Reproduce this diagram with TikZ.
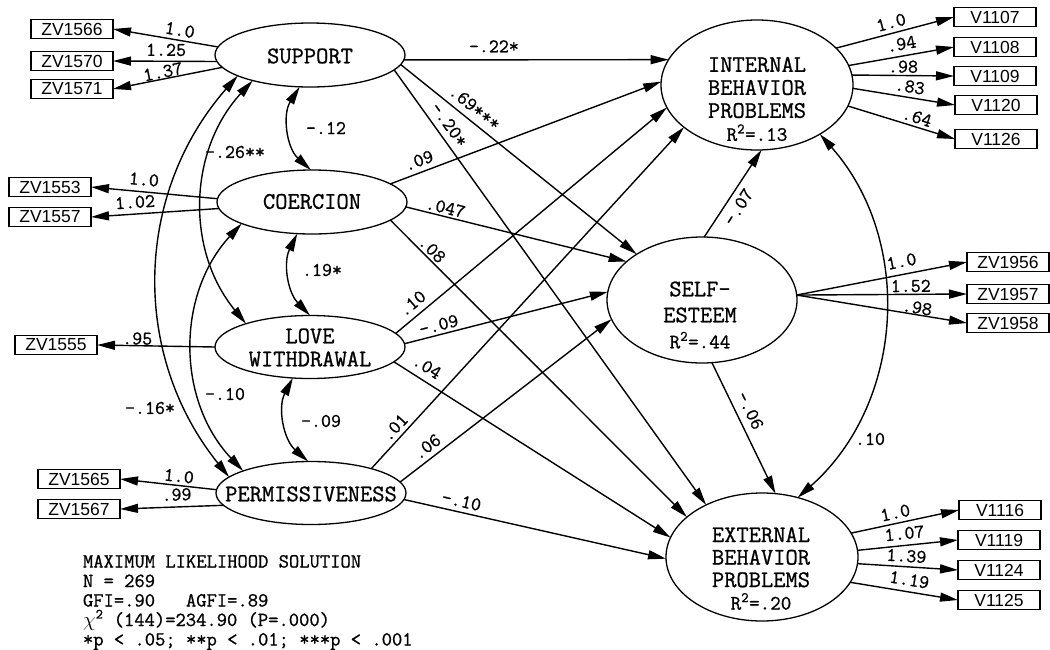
\documentclass[tikz,border=0pt]{standalone}
\usepackage{fontspec}
\usetikzlibrary{arrows.meta,shapes.geometric}
\newfontfamily\semmono[FakeBold=0.9]{Latin Modern Mono}
\newfontfamily\semsans{Liberation Sans}

\begin{document}
\begin{tikzpicture}[x=1pt,y=-1pt,
  every node/.style={inner sep=0pt, outer sep=0pt},
  latent/.style={draw, ellipse, line width=1.3pt},
  ltext/.style={align=center, font=\semmono\fontsize{23.8}{23}\selectfont},
  manifest/.style={draw, rectangle, line width=1.2pt, minimum width=82pt,
    minimum height=19.5pt, font=\semsans\fontsize{17.5}{18}\selectfont},
  effect/.style={line width=1.4pt, -{Triangle[length=18pt,width=9pt]}},
  corr/.style={line width=1.4pt,
    {Triangle[length=18pt,width=9pt]}-{Triangle[length=18pt,width=9pt]}},
  coef/.style={font=\semmono\fontsize{19.4}{20}\selectfont, inner sep=1pt},
]
\fill[white] (0,0) rectangle (1050,649);
\useasboundingbox (0,0) rectangle (1050,649);

% ---------- latent variables ----------
\node[latent, minimum width=190pt, minimum height=64pt] (sup) at (310,55) {};
\node[latent, minimum width=190pt, minimum height=64pt] (coe) at (312,202) {};
\node[latent, minimum width=190pt, minimum height=63pt] (lov) at (310,347) {};
\node[latent, minimum width=190pt, minimum height=63pt] (per) at (311,493) {};
\node[latent, minimum width=192pt, minimum height=130pt] (int) at (757,85) {};
\node[latent, minimum width=190pt, minimum height=126pt] (self) at (702,300) {};
\node[latent, minimum width=192pt, minimum height=128pt] (ext) at (762,557) {};

\node[ltext] (sup-t) at (310,56) {SUPPORT};
\node[ltext] (coe-t) at (312,201.5) {COERCION};
\node[ltext] (lov-t) at (310,347.5) {LOVE\\WITHDRAWAL};
\node[ltext] (per-t) at (311,494) {PERMISSIVENESS};
\node[ltext] (int-t) at (757,99) {INTERNAL\\BEHAVIOR\\PROBLEMS\\{\fontsize{20.5}{23}\selectfont R\textsuperscript{2}=.13}};
\node[ltext, font=\semmono\fontsize{23.8}{26}\selectfont] (self-t) at (700,315) {SELF-\\ESTEEM\\{\fontsize{20.5}{26}\selectfont R\textsuperscript{2}=.44}};
\node[ltext, font=\semmono\fontsize{23.8}{22.5}\selectfont] (ext-t) at (761,568.5) {EXTERNAL\\BEHAVIOR\\PROBLEMS\\{\fontsize{20.5}{22.5}\selectfont R\textsuperscript{2}=.20}};

% ---------- indicators ----------
\node[manifest] (z1566) at (72,29) {ZV1566};
\node[manifest] (z1570) at (72,61) {ZV1570};
\node[manifest] (z1571) at (72,89) {ZV1571};
\node[manifest] (z1553) at (50,187) {ZV1553};
\node[manifest] (z1557) at (50,217) {ZV1557};
\node[manifest] (z1555) at (56,345) {ZV1555};
\node[manifest] (z1565) at (79,479) {ZV1565};
\node[manifest] (z1567) at (79,509) {ZV1567};

\node[manifest] (v1107) at (995,17) {V1107};
\node[manifest] (v1108) at (995,47) {V1108};
\node[manifest] (v1109) at (995,76) {V1109};
\node[manifest] (v1120) at (996,105) {V1120};
\node[manifest] (v1126) at (996,139) {V1126};
\node[manifest] (z1956) at (1008,262) {ZV1956};
\node[manifest] (z1957) at (1008,294) {ZV1957};
\node[manifest] (z1958) at (1008,323) {ZV1958};
\node[manifest] (v1116) at (1000,510) {V1116};
\node[manifest] (v1119) at (999,540) {V1119};
\node[manifest] (v1124) at (999,570) {V1124};
\node[manifest] (v1125) at (999,600) {V1125};

% ---------- loadings ----------
\draw[effect] (sup.175.7) -- node[coef, sloped, pos=.38, above=3.2pt] (l1) {1.0} (z1566.east);
\draw[effect] (sup.184.3) -- node[coef, sloped, pos=.49, above=4.2pt] (l2) {1.25} (z1570.east);
\draw[effect] (sup.188) -- node[coef, sloped, pos=.53, above=0pt] (l3) {1.37} (z1571.east);
\draw[effect] (coe.178.8) -- node[coef, sloped, pos=.59, above=5.2pt] (l4) {1.0} (z1553.east);
\draw[effect] (coe.184.8) -- node[coef, sloped, pos=.65, above=4.8pt] (l5) {1.02} (z1557.east);
\draw[effect] (lov.180) -- node[coef, sloped, pos=.66, above=0pt] (l6) {.95} (z1555.east);
\draw[effect] (per.178.8) -- node[coef, sloped, pos=.4, above=2.2pt] (l7) {1.0} (z1565.east);
\draw[effect] (per.188.7) -- node[coef, sloped, pos=.45, above=5.2pt] (l8) {.99} (z1567.east);

\draw[effect] (int.25.4) -- node[coef, sloped, pos=.49, above=3.7pt] (r1) {1.0} (v1107.west);
\draw[effect] (int.12.1) -- node[coef, sloped, pos=.52, above=5pt] (r2) {.94} (v1108.west);
\draw[effect] (int.6) -- node[coef, sloped, pos=.5, above=1.7pt] (r3) {.98} (v1109.west);
\draw[effect] (int.-2.4) -- node[coef, sloped, pos=.54, above=3.8pt] (r4) {.83} (v1120.west);
\draw[effect] (int.-13) -- node[coef, sloped, pos=.62, above=2.5pt] (r5) {.64} (v1126.west);
\draw[effect] (self.3) -- node[coef, sloped, pos=.63, above=6pt] (r6) {1.0} (z1956.west);
\draw[effect] (self.3) -- node[coef, sloped, pos=.67, above=1.2pt] (r7) {1.52} (z1957.west);
\draw[effect] (self.3) -- node[coef, sloped, pos=.7, above=0pt] (r8) {.98} (z1958.west);
\draw[effect] (ext.15.5) -- node[coef, sloped, pos=.43, above=3.5pt] (r9) {1.0} (v1116.west);
\draw[effect] (ext.4.8) -- node[coef, sloped, pos=.48, above=4.9pt] (r10) {1.07} (v1119.west);
\draw[effect] (ext.-4.8) -- node[coef, sloped, pos=.48, above=3.6pt] (r11) {1.39} (v1124.west);
\draw[effect] (ext.-16) -- node[coef, sloped, pos=.53, above=5pt] (r12) {1.19} (v1125.west);

% ---------- structural paths ----------
\draw[effect] (sup.-3) -- node[coef, sloped, pos=.34, above=6.5pt] (p1) {-.22*} (int.164.5);
\draw[effect] (sup.-6.3) -- node[coef, sloped, pos=.28, above=5.9pt] (p2) {.69***} (self.145);
\draw[effect] (sup.-10) -- node[coef, sloped, pos=.143, above=5.8pt] (p3) {-.20*} (ext.137);
\draw[effect] (coe.13.7) -- node[coef, sloped, pos=.12, above=4.7pt] (p4) {.09} (int.178);
\draw[effect] (coe.-3) -- node[coef, sloped, pos=.17, above=1.7pt] (p5) {.047} (self.153.4);
\draw[effect] (coe.-13) -- node[coef, sloped, pos=.12, above=1.7pt] (p6) {.08} (ext.152.6);
\draw[effect] (lov.9.4) -- node[coef, sloped, pos=.09, above=5.5pt] (p7) {.10} (int.194.3);
\draw[effect] (lov.2) -- node[coef, sloped, pos=.18, above=2.6pt] (p8) {-.09} (self.175);
\draw[effect] (lov.-10) -- node[coef, sloped, pos=.094, above=6.5pt] (p9) {.04} (ext.168.6);
\draw[effect] (per.22.3) -- node[coef, sloped, pos=.10, above=3.4pt] (p10) {.01} (int.210.8);
\draw[effect] (per.7) -- node[coef, sloped, pos=.16, above=4.5pt] (p11) {.06} (self.192.3);
\draw[effect] (per.-4.3) -- node[coef, sloped, pos=.21, above=4pt] (p12) {-.10} (ext.181);
\draw[effect] (self.88) -- node[coef, sloped, pos=.42, below=4.9pt] (p13) {-.07} (int.274);
\draw[effect] (self.-81) -- node[coef, sloped, pos=.41, above=6.5pt] (p14) {-.06} (ext.78.5);

% ---------- correlations ----------
\draw[corr] (sup.252.6) to[bend right=40] (coe.92);
\draw[corr] (coe.245) to[bend right=35] (lov.90);
\draw[corr] (lov.241) to[bend right=38] (per.95);
\draw[corr] (sup.204.5) to[bend right=41] (lov.160.5);
\draw[corr] (sup.196.3) to[bend right=40] (per.169.8);
\draw[corr] (coe.197.4) to[bend right=43] (per.162.3);
\draw[corr] (int.-38.4) to[bend left=45] (ext.59.7);

\node[coef] (k1) at (326,128) {-.12};
\node[coef] (k2) at (322,270) {.19*};
\node[coef] (k3) at (321,421) {-.09};
\node[coef] (k4) at (235,152) {-.26**};
\node[coef] (k5) at (150,408) {-.16*};
\node[coef] (k6) at (225,394) {-.10};
\node[coef] (k7) at (870,439) {.10};

% ---------- fit statistics ----------
\node[anchor=north west, align=left, font=\semmono\fontsize{20}{19.5}\selectfont]
  (fit) at (83,555) {MAXIMUM LIKELIHOOD SOLUTION\\N = 269\\GFI=.90\ \ \ AGFI=.89\\$\chi$\textsuperscript{2} (144)=234.90 (P=.000)\\{}*p < .05; **p < .01; ***p < .001};
\end{tikzpicture}
\end{document}
